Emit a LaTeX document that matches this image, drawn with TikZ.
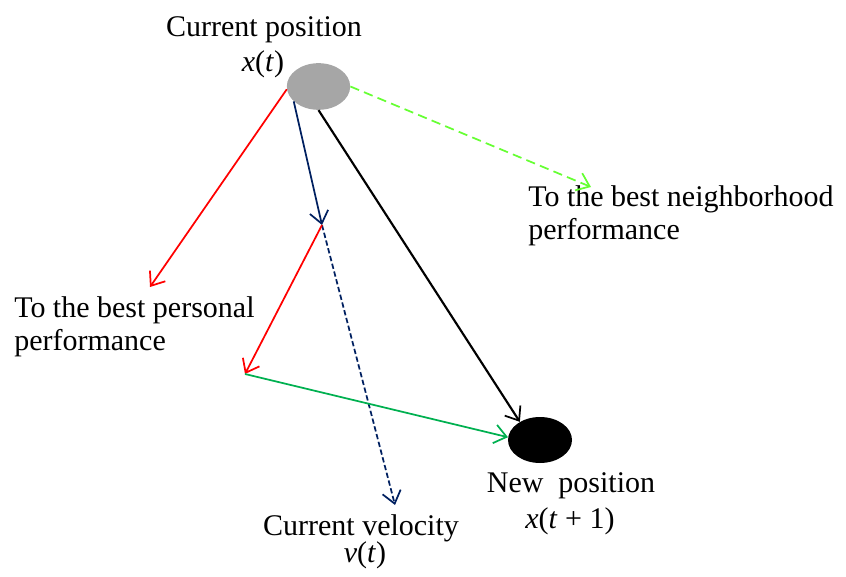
\documentclass[tikz,border=0pt]{standalone}
\usepackage{fontspec}
\setmainfont{Liberation Serif}
\usetikzlibrary{arrows.meta,shapes.geometric}
\definecolor{navy}{RGB}{0,32,96}
\definecolor{pgreen}{RGB}{0,176,80}
\definecolor{lgreen}{RGB}{102,255,51}
\definecolor{dotgray}{RGB}{166,166,166}
\begin{document}
\begin{tikzpicture}[x=0.75pt,y=-0.75pt,
  lbl/.style={font=\fontsize{22.5}{25}\selectfont, inner sep=0pt},
  arr/.style={line width=1.3pt,-{Straight Barb[length=9pt,width=14pt,line width=1.3pt]}},
  blob/.style={ellipse, minimum width=47.5pt, minimum height=35pt, inner sep=0pt}]
\useasboundingbox (0,0) rectangle (846,577);
% positions
\node[blob, fill=dotgray] (cur) at (318.5,86.5) {};
\node[blob, fill=black, minimum width=48pt, minimum height=34.5pt] (new) at (540,440) {};
\coordinate (vend) at (322,225);
\coordinate (pend) at (245,374);
\coordinate (pbest) at (150,287);
\coordinate (gbest) at (591,187);
\coordinate (vtip) at (395,505);
% labels
\node[lbl, anchor=base] (curlbl) at (264,37) {Current position};
\node[lbl, anchor=base] (curx) at (263,72) {\textit{x}(\textit{t})};
\node[lbl, anchor=base] (newlbl) at (571,492) {New\ \ position};
\node[lbl, anchor=base] (newx) at (570,528) {\textit{x}(\textit{t}\ +\ 1)};
\node[lbl, anchor=base] (vellbl) at (361,535) {Current velocity};
\node[lbl, anchor=base] (velv) at (365,562) {\textit{v}(\textit{t})};
\node[lbl, anchor=base west] (nb1) at (528,207) {To the best neighborhood};
\node[lbl, anchor=base west] (nb2) at (528,240) {performance};
\node[lbl, anchor=base west] (pb1) at (14,317) {To the best personal};
\node[lbl, anchor=base west] (pb2) at (14,350) {performance};
% arrows
\draw[arr, red] (cur.185) -- (pbest);
\draw[arr, navy] (cur.211) -- (vend);
\draw[arr, navy, dash pattern=on 4pt off 2pt] (vend) -- (vtip);
\draw[arr, red] (vend) -- (pend);
\draw[arr, pgreen] (pend) -- (new.175);
\draw[arr, black, line width=1.6pt] (cur.south) -- (new.138);
\draw[arr, lgreen, dash pattern=on 7pt off 4pt] (cur.east) -- (gbest);
\end{tikzpicture}
\end{document}
